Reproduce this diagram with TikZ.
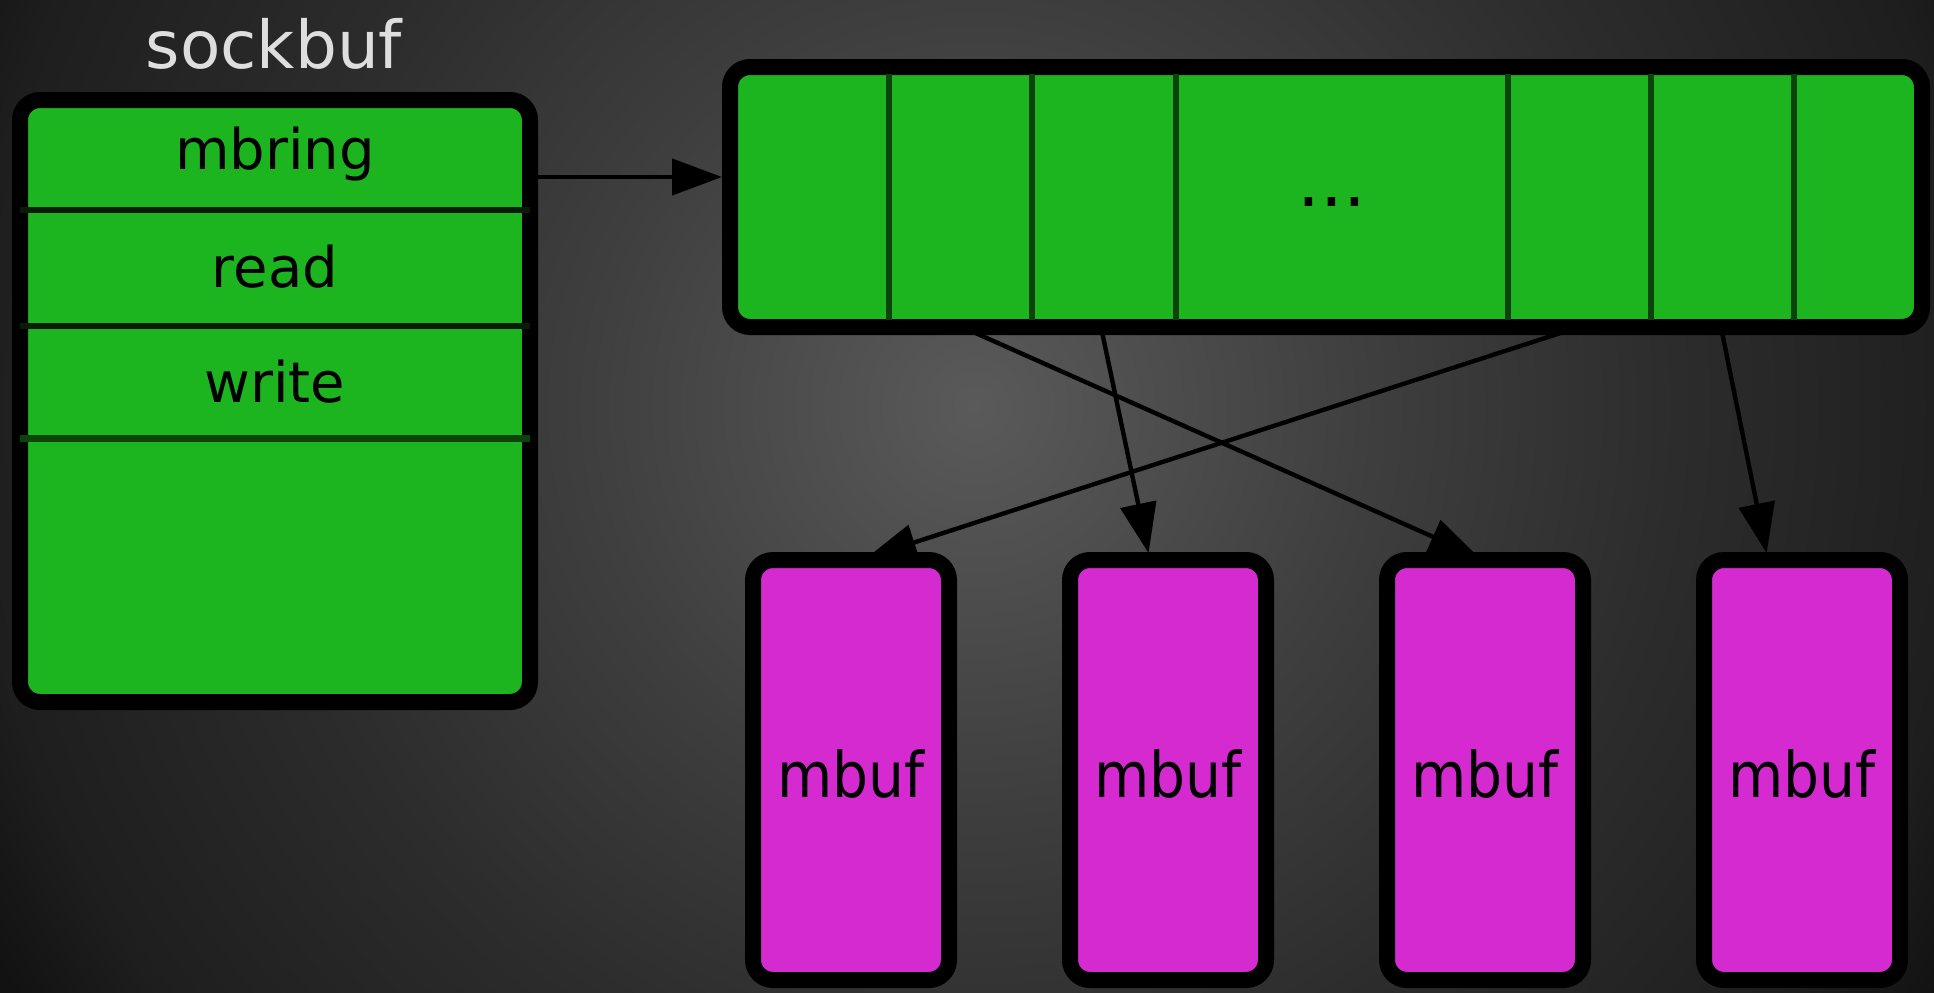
\documentclass[tikz,border=0pt]{standalone}
\usepackage{fontspec}
\usepackage{graphicx}
\setmainfont{DejaVu Sans}
\usetikzlibrary{arrows.meta}
\definecolor{boxgreen}{RGB}{28,181,32}
\definecolor{boxmag}{RGB}{213,42,208}
\definecolor{divgreen}{RGB}{12,66,12}
\definecolor{divdark}{RGB}{8,28,8}
\definecolor{bgca}{RGB}{90,90,90}
\definecolor{bgcb}{RGB}{62,62,62}
\definecolor{bgcc}{RGB}{44,44,44}
\definecolor{bgcd}{RGB}{30,30,30}
\definecolor{bgce}{RGB}{18,18,18}
\definecolor{titlegray}{RGB}{222,222,222}
\pgfdeclareradialshading{bgshade}{\pgfpointorigin}{color(0bp)=(bgca); color(200bp)=(bgcb); color(350bp)=(bgcc); color(500bp)=(bgcd); color(560bp)=(bgce); color(620bp)=(bgce)}
\tikzset{
  panel/.style={draw=black, line width=8pt, rounded corners=10pt, inner sep=0pt, outer sep=0pt},
  greenpanel/.style={panel, fill=boxgreen},
  mbufbox/.style={panel, fill=boxmag, minimum width=98pt, minimum height=210pt},
  lbl/.style={font=\fontsize{28}{34}\selectfont, anchor=base, text=black, inner sep=0pt},
  mlbl/.style={font=\fontsize{31.5}{38}\selectfont, anchor=base, text=black, inner sep=0pt},
  arr/.style={line width=2.2pt, draw=black, -{Triangle[length=25pt,width=18pt]}},
  sbdiv/.style={draw=divdark, line width=3pt},
  ringdiv/.style={draw=divgreen, line width=2.8pt},
}
\begin{document}
\begin{tikzpicture}[x=0.5pt,y=-0.5pt]
\useasboundingbox (0,0) rectangle (1934,992);
\begin{scope}
  \clip (0,0) rectangle (1934,992);
  \fill[bgce] (0,0) rectangle (1934,992);
  \node[inner sep=0pt, outer sep=0pt] (bg) at (975,407) {\pgfuseshading{bgshade}};
\end{scope}

% sockbuf
\node[font=\fontsize{33}{40}\selectfont, text=titlegray, anchor=base, inner sep=0pt] (title) at (274,68) {sockbuf};
\node[greenpanel, minimum width=255pt, minimum height=301pt] (sb) at (275,401) {};
\draw[sbdiv] (sb.west |- 0,210) -- (sb.east |- 0,210);
\draw[sbdiv] (sb.west |- 0,326) -- (sb.east |- 0,326);
\draw[draw=divgreen, line width=3.5pt] (sb.west |- 0,438) -- (sb.east |- 0,438);
\node[lbl] (mbring) at (275,169) {mbring};
\node[lbl] (read) at (275,287) {read};
\node[lbl] (write) at (275,402) {write};

% ring
\node[greenpanel, minimum width=596pt, minimum height=130pt] (ring) at (1326,197) {};
\foreach \xx in {889,1032,1176,1508,1651,1794}
  \draw[ringdiv] (\xx,74) -- (\xx,320);
\node[font=\fontsize{36}{44}\selectfont, anchor=base, inner sep=0pt] (dots) at (1332,206) {...};

% mbufs
\node[mbufbox] (m1) at (851,770) {};
\node[mbufbox] (m2) at (1168,770) {};
\node[mbufbox] (m3) at (1485,770) {};
\node[mbufbox] (m4) at (1802,770) {};
\node[mlbl] (m1l) at (851,797) {\scalebox{0.9}[1]{mbuf}};
\node[mlbl] (m2l) at (1168,797) {\scalebox{0.9}[1]{mbuf}};
\node[mlbl] (m3l) at (1485,797) {\scalebox{0.9}[1]{mbuf}};
\node[mlbl] (m4l) at (1802,797) {\scalebox{0.9}[1]{mbuf}};

% connectors
\draw[arr, shorten >=4pt] (sb.east |- 0,177) -- (ring.west |- 0,177);
\draw[arr, shorten >=3.5pt] ([xshift=-182pt]ring.south) -- (m3.north);
\draw[arr, shorten >=3.5pt] ([xshift=-112.5pt]ring.south) -- ([xshift=-9pt]m2.north);
\draw[arr, shorten >=3.5pt] ([xshift=126.5pt]ring.south) -- ([xshift=4.5pt]m1.north);
\draw[arr, shorten >=3.5pt] ([xshift=197.5pt]ring.south) -- ([xshift=-17pt]m4.north);
\end{tikzpicture}
\end{document}
